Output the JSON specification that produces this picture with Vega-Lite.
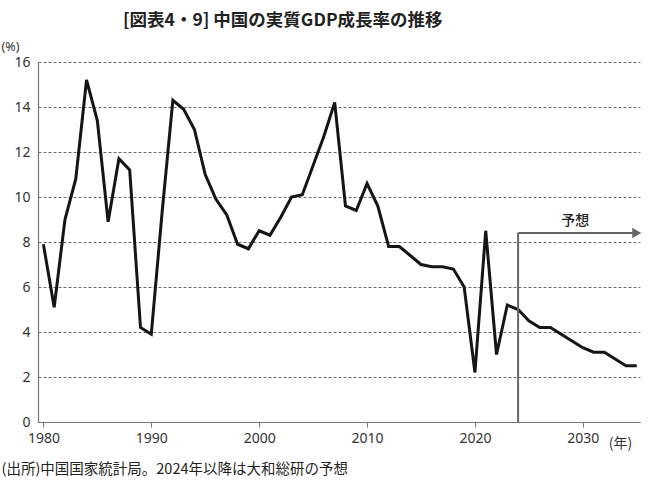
{
  "$schema": "https://vega.github.io/schema/vega-lite/v6.json",
  "width": 602,
  "height": 360,
  "autosize": "none",
  "padding": {"left": 38, "top": 62, "right": 10, "bottom": 64},
  "background": "white",
  "config": {
    "view": {"stroke": null},
    "font": "Noto Sans CJK JP"
  },
  "title": {
    "text": "[図表4・9]  中国の実質GDP成長率の推移",
    "anchor": "start",
    "frame": "group",
    "dx": 85,
    "offset": 11,
    "fontSize": 17.5,
    "fontWeight": "bold",
    "color": "#222"
  },
  "resolve": {"axis": {"x": "independent"}},
  "layer": [
    {
      "data": {"values": [
        {"year": 1980, "growth": 7.9}, {"year": 1981, "growth": 5.1}, {"year": 1982, "growth": 9.0},
        {"year": 1983, "growth": 10.8}, {"year": 1984, "growth": 15.2}, {"year": 1985, "growth": 13.4},
        {"year": 1986, "growth": 8.9}, {"year": 1987, "growth": 11.7}, {"year": 1988, "growth": 11.2},
        {"year": 1989, "growth": 4.2}, {"year": 1990, "growth": 3.9}, {"year": 1991, "growth": 9.3},
        {"year": 1992, "growth": 14.3}, {"year": 1993, "growth": 13.9}, {"year": 1994, "growth": 13.0},
        {"year": 1995, "growth": 11.0}, {"year": 1996, "growth": 9.9}, {"year": 1997, "growth": 9.2},
        {"year": 1998, "growth": 7.9}, {"year": 1999, "growth": 7.7}, {"year": 2000, "growth": 8.5},
        {"year": 2001, "growth": 8.3}, {"year": 2002, "growth": 9.1}, {"year": 2003, "growth": 10.0},
        {"year": 2004, "growth": 10.1}, {"year": 2005, "growth": 11.4}, {"year": 2006, "growth": 12.7},
        {"year": 2007, "growth": 14.2}, {"year": 2008, "growth": 9.6}, {"year": 2009, "growth": 9.4},
        {"year": 2010, "growth": 10.6}, {"year": 2011, "growth": 9.6}, {"year": 2012, "growth": 7.8},
        {"year": 2013, "growth": 7.8}, {"year": 2014, "growth": 7.4}, {"year": 2015, "growth": 7.0},
        {"year": 2016, "growth": 6.9}, {"year": 2017, "growth": 6.9}, {"year": 2018, "growth": 6.8},
        {"year": 2019, "growth": 6.0}, {"year": 2020, "growth": 2.2}, {"year": 2021, "growth": 8.5},
        {"year": 2022, "growth": 3.0}, {"year": 2023, "growth": 5.2}, {"year": 2024, "growth": 5.0},
        {"year": 2025, "growth": 4.5}, {"year": 2026, "growth": 4.2}, {"year": 2027, "growth": 4.2},
        {"year": 2028, "growth": 3.9}, {"year": 2029, "growth": 3.6}, {"year": 2030, "growth": 3.3},
        {"year": 2031, "growth": 3.1}, {"year": 2032, "growth": 3.1}, {"year": 2033, "growth": 2.8},
        {"year": 2034, "growth": 2.5}, {"year": 2035, "growth": 2.5}
      ]},
      "mark": {"type": "line", "color": "#151515", "strokeWidth": 3, "strokeJoin": "miter"},
      "encoding": {
        "x": {
          "field": "year", "type": "quantitative",
          "scale": {"domain": [1979.5, 2035.3], "nice": false, "zero": false},
          "axis": {
            "values": [1980, 1990, 2000, 2010, 2020, 2030],
            "format": "d", "grid": false,
            "domainColor": "#777", "domainWidth": 1.2,
            "tickColor": "#777", "tickSize": 5,
            "labelFontSize": 14, "labelColor": "#333", "labelPadding": 4,
            "labelFont": "Noto Sans",
            "title": "(年)", "titleFontSize": 14, "titleFontWeight": "normal",
            "titleColor": "#333", "titleX": 582, "titleY": 25,
            "titleAlign": "center", "titleBaseline": "alphabetic"
          }
        },
        "y": {
          "field": "growth", "type": "quantitative",
          "scale": {"domain": [0, 16], "nice": false},
          "axis": {
            "values": [0, 2, 4, 6, 8, 10, 12, 14, 16],
            "grid": true, "gridDash": [3, 2], "gridColor": "#444", "gridWidth": 0.8,
            "domainColor": "#777", "domainWidth": 1.2,
            "ticks": false, "labelPadding": 8,
            "labelFontSize": 14, "labelColor": "#333", "labelFont": "Noto Sans",
            "title": "(%)", "titleAngle": 0, "titleX": -37, "titleY": -12,
            "titleAlign": "left", "titleBaseline": "alphabetic",
            "titleFontSize": 12.5, "titleFontWeight": "normal", "titleColor": "#333",
            "titleFont": "Noto Sans"
          }
        }
      }
    },
    {
      "data": {"values": [{"year": 2024, "y0": 0, "y1": 8.4}]},
      "mark": {"type": "rule", "color": "#666", "strokeWidth": 2},
      "encoding": {
        "x": {
          "field": "year", "type": "quantitative",
          "axis": {
            "orient": "top", "domain": false, "ticks": false, "labels": false, "grid": false,
            "title": "(出所)中国国家統計局。2024年以降は大和総研の予想",
            "titleX": -37, "titleY": 411, "titleAlign": "left", "titleAnchor": null,
            "titleBaseline": "alphabetic", "titleFontSize": 14.5, "titleFontWeight": "normal",
            "titleColor": "#222"
          }
        },
        "y": {"field": "y0", "type": "quantitative"},
        "y2": {"field": "y1"}
      }
    },
    {
      "data": {"values": [{"start": 2024, "end": 2034.9, "level": 8.4}]},
      "mark": {"type": "rule", "color": "#666", "strokeWidth": 2},
      "encoding": {
        "x": {"field": "start", "type": "quantitative", "axis": null},
        "x2": {"field": "end"},
        "y": {"field": "level", "type": "quantitative"}
      }
    },
    {
      "data": {"values": [{"end": 2035.0, "level": 8.4}]},
      "mark": {"type": "point", "shape": "triangle-right", "filled": true, "color": "#666", "opacity": 1, "size": 110},
      "encoding": {
        "x": {"field": "end", "type": "quantitative", "axis": null},
        "y": {"field": "level", "type": "quantitative"}
      }
    },
    {
      "data": {"values": [{"pos": 2029.3, "level": 8.4, "label": "予想"}]},
      "mark": {"type": "text", "dy": -5, "fontSize": 14, "fontWeight": 500, "color": "#222", "baseline": "bottom"},
      "encoding": {
        "x": {"field": "pos", "type": "quantitative", "axis": null},
        "y": {"field": "level", "type": "quantitative"},
        "text": {"field": "label"}
      }
    }
  ]
}
